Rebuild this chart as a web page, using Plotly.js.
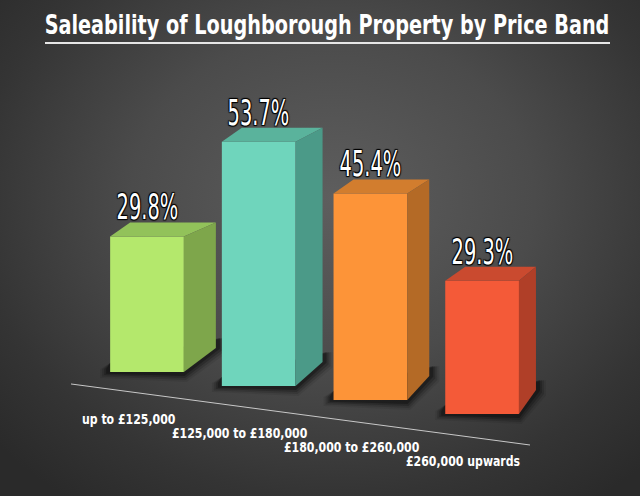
<!DOCTYPE html>
<html>
<head>
<meta charset="utf-8">
<script src="https://cdn.plot.ly/plotly-3.0.1.min.js"></script>
<style>
html,body{margin:0;padding:0;width:640px;height:496px;overflow:hidden;}
body{background:radial-gradient(ellipse 70% 75% at 52% 40%, #5e5e5e 0%, #4b4b4b 45%, #343434 80%, #2a2a2a 100%);}
#chart{width:640px;height:496px;}
</style>
</head>
<body>
<div id="chart"></div>
<script>
// ---- data ----
const categories = ['up to £125,000', '£125,000 to £180,000', '£180,000 to £260,000', '£260,000 upwards'];
const saleability = [29.8, 53.7, 45.4, 29.3];
const valueLabels = ['29.8%', '53.7%', '45.4%', '29.3%'];
const frontColors = ['#b4e86c', '#6fd5bc', '#fd9438', '#f45a38'];
const sideColors = ['#7ea64b', '#4b9a88', '#b46a26', '#b03f28'];
const topColors = ['#92c25a', '#5ab39c', '#d27d2e', '#ca4a2f'];

// ---- geometry (pixel scale of the fake 3D view) ----
const PX_PER_X = 111.7, X0PX = 147;
const PX_PER_Y = 4.55, Y0PX = 372;
const BASE_STEP_PX = 14;
const halfW = 0.33;
const dxp = px => px / PX_PER_X;          // horizontal pixels -> x units
const dyp = px => px / PX_PER_Y;          // upward pixels -> y units
const baseAt = x => -dyp(BASE_STEP_PX) * x;
const idx = categories.map((c, i) => i);
const bases = idx.map(i => baseAt(i));

const shapes = [];
const P = pts => 'M' + pts.map(p => p[0].toFixed(4) + ',' + p[1].toFixed(4)).join(' L') + ' Z';

idx.forEach(i => {
  const xl = i - halfW, xr = i + halfW;
  const yb = bases[i], yt = yb + saleability[i];
  const dxR = dxp(32 - 5 * i), dxL = dxp(20);
  const upT = dyp(14), upB = dyp(24);
  // soft shadow around the foot of the block
  [[7, 0.08], [5, 0.14], [3, 0.2], [1, 0.28]].forEach(([g, a]) => {
    shapes.push({type: 'path', layer: 'below', line: {width: 0}, fillcolor: 'rgba(0,0,0,' + a + ')',
      path: P([[xl, yb + dyp(9)], [xl - dxp(3 + g), yb + dyp(3)], [xl - dxp(3 + g), yb - dyp(1 + g * 0.7)],
               [xr + dxp(g * 0.4), yb - dyp(3 + g)], [xr + dxR + dxp(3 + g), yb + upB - dyp(g * 0.8)],
               [xr + dxR + dxp(3 + g), yb + upB + dyp(10)]])});
  });
  // top face
  shapes.push({type: 'path', layer: 'above', line: {width: 0}, fillcolor: topColors[i],
    path: P([[xl, yt], [xr, yt], [xr + dxR, yt + upT], [xl + dxL, yt + upT]])});
  // side face
  shapes.push({type: 'path', layer: 'above', line: {width: 0}, fillcolor: sideColors[i],
    path: P([[xr, yt], [xr + dxR, yt + upT], [xr + dxR, yb + upB], [xr, yb]])});
});

// floor line under the bars
const fx0 = dxp(71 - X0PX), fx1 = dxp(530 - X0PX);
shapes.push({type: 'line', layer: 'below', x0: fx0, x1: fx1,
  y0: baseAt(fx0) - dyp(21.5), y1: baseAt(fx1) - dyp(25),
  line: {color: '#c8c8c8', width: 1}});

// title underline
shapes.push({type: 'line', xref: 'paper', yref: 'paper', x0: 45 / 640, x1: 610 / 640,
  y0: 1 - 43 / 496, y1: 1 - 43 / 496, line: {color: '#e6e6e6', width: 2}});

const FONT = 'DejaVu Sans Condensed, Liberation Sans Narrow, sans-serif';
const annotations = [];
idx.forEach(i => {
  annotations.push({x: i, y: bases[i] + saleability[i], text: valueLabels[i], showarrow: false,
    xanchor: 'center', yanchor: 'bottom', yshift: 7,
    font: {family: FONT, size: 36, color: '#ffffff',
           shadow: '1px 1px 1px #000, -1px -1px 1px #000, 1px -1px 1px #000, -1px 1px 1px #000'}});
  annotations.push({x: i, y: bases[i], text: categories[i], showarrow: false,
    xanchor: 'center', yanchor: 'middle', xshift: -19, yshift: -47,
    font: {family: FONT, size: 14.5, color: '#ffffff', weight: 'bold'}});
});

const trace = {
  type: 'bar', x: idx, y: saleability, base: bases, width: 2 * halfW,
  marker: {color: frontColors, line: {width: 0}},
  hoverinfo: 'skip', textposition: 'none'
};

const layout = {
  width: 640, height: 496, autosize: false,
  margin: {l: 0, r: 0, t: 0, b: 0, pad: 0},
  paper_bgcolor: 'rgba(0,0,0,0)', plot_bgcolor: 'rgba(0,0,0,0)',
  showlegend: false,
  title: {text: 'Saleability of Loughborough Property by Price Band',
    x: 327 / 640, xanchor: 'center', xref: 'container',
    y: 1 - 25 / 496, yanchor: 'middle', yref: 'container',
    font: {family: FONT, size: 27, color: '#ffffff', weight: 'bold'}},
  xaxis: {visible: false, range: [-X0PX / PX_PER_X, (640 - X0PX) / PX_PER_X], fixedrange: true},
  yaxis: {visible: false, range: [-(496 - Y0PX) / PX_PER_Y, Y0PX / PX_PER_Y], fixedrange: true},
  shapes: shapes, annotations: annotations
};

// horizontally condense a text element about its own centre (the reference uses a condensed typeface)
function condense(el, sx) {
  const bb = el.getBBox();
  const cx = bb.x + bb.width / 2;
  const prev = el.getAttribute('transform') || '';
  el.setAttribute('transform', prev + ' translate(' + cx + ',0) scale(' + sx + ',1) translate(' + (-cx) + ',0)');
}

Plotly.newPlot('chart', [trace], layout, {displayModeBar: false, staticPlot: true}).then(gd => {
  const t = gd.querySelector('.gtitle');
  if (t) condense(t, Math.min(1, 565 / t.getBBox().width));
  const ann = gd.querySelectorAll('.annotation-text');
  ann.forEach((el, k) => condense(el, k % 2 === 0 ? 0.6 : 0.84));
});
</script>
</body>
</html>
